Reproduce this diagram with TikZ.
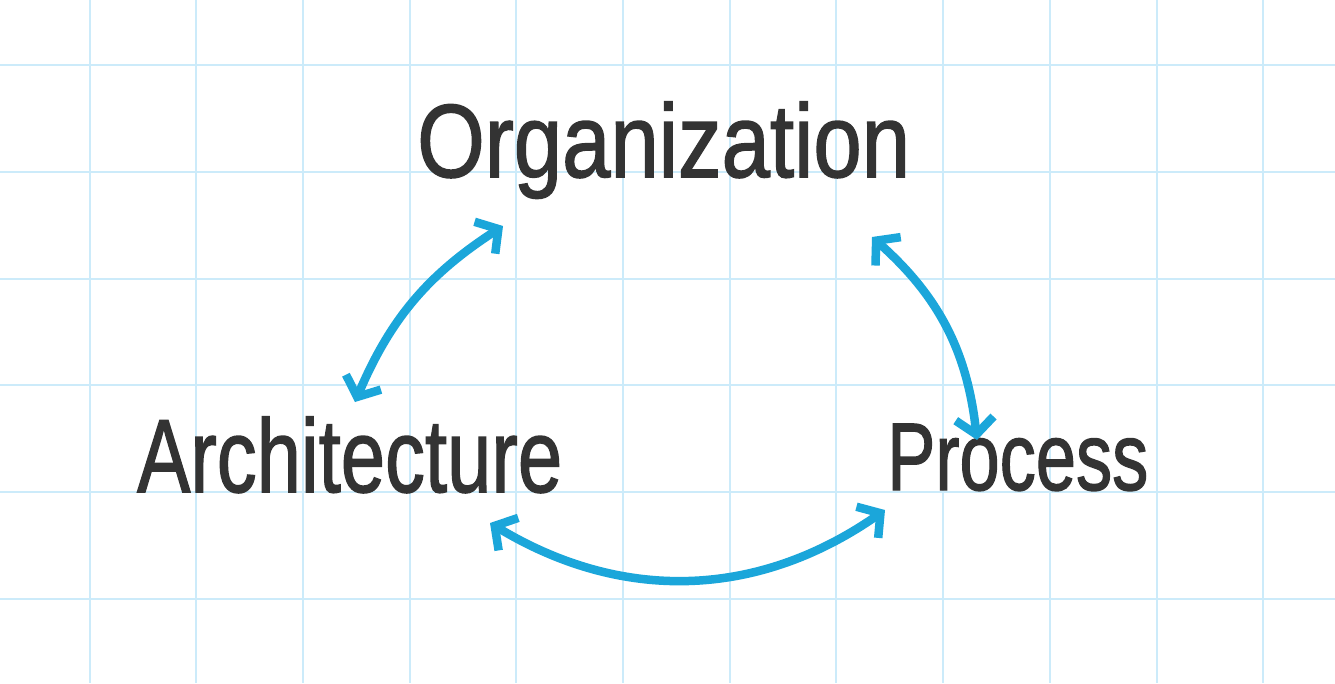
\documentclass[tikz,border=0pt]{standalone}
\usepackage{fontspec}
\setmainfont{Liberation Sans}
\newfontfamily\handfont{Liberation Sans}[FakeBold=1.5]
\usepackage{graphicx}
\usetikzlibrary{arrows.meta, positioning}
\definecolor{gridblue}{RGB}{204,235,250}
\definecolor{penblue}{RGB}{27,166,218}
\definecolor{pencil}{RGB}{51,51,51}

\begin{document}
\begin{tikzpicture}[
  x=1pt, y=-1pt,
  gridline/.style={draw=gridblue, line width=2pt},
  word/.style={anchor=base west, inner sep=0pt, text=pencil, font=\handfont\fontsize{104}{104}\selectfont},
  link/.style={draw=penblue, line width=8.5pt, line cap=round,
    {Straight Barb[length=16pt, width=38pt]}-{Straight Barb[length=16pt, width=38pt]}}
]
\fill[white] (0,0) rectangle (1335,683);
\useasboundingbox (0,0) rectangle (1335,683);
\foreach \gx in {0,...,11}
  \draw[gridline] ({89.5+106.7*\gx},0) -- ({89.5+106.7*\gx},683);
\foreach \gy in {0,...,5}
  \draw[gridline] (0,{65.3+106.7*\gy}) -- (1335,{65.3+106.7*\gy});

\node[word] (org) at (417,177) {\scalebox{0.836}[1]{Organization}};
\node[word] (arch) at (137,492) {\scalebox{0.766}[1]{Architecture}};
\node[word, font=\handfont\fontsize{96}{96}\selectfont] (proc) at (887,490) {\scalebox{0.753}[1]{Process}};

\draw[link] ([shift={(218,-90)}]arch.base west) to[bend left=17] ([shift={(86,49)}]org.base west);
\draw[link] ([shift={(455,60)}]org.base west) to[bend left=21] ([shift={(90,-50)}]proc.base west);
\draw[link] ([shift={(353,31)}]arch.base west) to[bend right=33] ([shift={(-2,20)}]proc.base west);
\end{tikzpicture}
\end{document}
